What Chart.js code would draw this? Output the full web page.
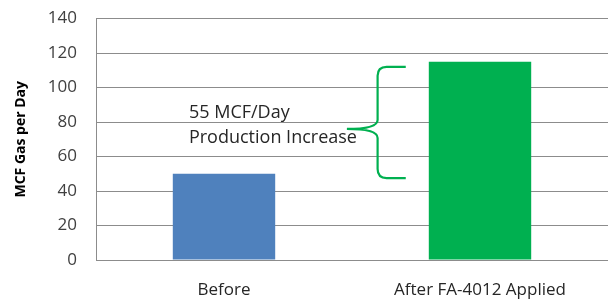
<!DOCTYPE html>
<html>
<head>
<meta charset="utf-8">
<script src="https://cdn.jsdelivr.net/npm/chart.js@4"></script>
<style>
  html, body { margin: 0; padding: 0; background: #fff; }
  #wrap { width: 608px; height: 301px; }
</style>
</head>
<body>
<div id="wrap"><canvas id="grafico"></canvas></div>
<script>
// data
const categorias = ['Before', 'After FA-4012 Applied'];
const valores = [50, 115];
const coresBarras = ['#4f81bd', '#00b050'];
const yTicks = [0, 20, 40, 60, 80, 100, 120, 140];
const textoNota = ['55 MCF/Day', 'Production Increase'];

// draws the green brace and the note text
const chaveta = {
    id: 'chaveta',
    afterDatasetsDraw(chart) {
        const ctx = chart.ctx;
        const x = chart.scales.x;
        const y = chart.scales.y;
        const xv = x.getPixelForValue(0.6);
        const xtip = x.getPixelForValue(0.48);
        const xend = x.getPixelForValue(0.71);
        const yTop = y.getPixelForValue(112);
        const yBot = y.getPixelForValue(47.5);
        const yMid = y.getPixelForValue(76);
        const r = 9;

        ctx.save();
        ctx.strokeStyle = '#00b050';
        ctx.lineWidth = 2.2;
        ctx.beginPath();
        ctx.moveTo(xend, yTop);
        ctx.lineTo(xv + r, yTop);
        ctx.quadraticCurveTo(xv, yTop, xv, yTop + r);
        ctx.lineTo(xv, yMid - r);
        ctx.quadraticCurveTo(xv, yMid, xtip, yMid);
        ctx.quadraticCurveTo(xv, yMid, xv, yMid + r);
        ctx.lineTo(xv, yBot - r);
        ctx.quadraticCurveTo(xv, yBot, xv + r, yBot);
        ctx.lineTo(xend, yBot);
        ctx.stroke();

        ctx.fillStyle = '#262626';
        ctx.font = '18px "Open Sans"';
        ctx.textBaseline = 'middle';
        ctx.textAlign = 'left';
        const xt = x.getPixelForValue(-0.137);
        ctx.fillText(textoNota[0], xt, y.getPixelForValue(85.3));
        ctx.fillText(textoNota[1], xt, y.getPixelForValue(70.6));
        ctx.restore();
    }
};

var grafico = document.getElementById('grafico').getContext('2d');

var meugrafico = new Chart(grafico, {
    type: 'bar',
    data: {
        labels: categorias,
        datasets: [{
            data: valores,
            backgroundColor: coresBarras,
            borderWidth: 0,
            categoryPercentage: 1,
            barPercentage: 0.4
        }]
    },
    options: {
        responsive: true,
        maintainAspectRatio: false,
        animation: false,
        layout: { padding: { top: 0, right: 0, left: 0, bottom: 0 } },
        plugins: {
            legend: { display: false },
            tooltip: { enabled: false }
        },
        scales: {
            y: {
                min: 0,
                max: 140,
                afterBuildTicks: s => { s.ticks = yTicks.map(v => ({ value: v })); },
                afterFit: s => { s.width = 96; s.paddingTop = 18.5; },
                ticks: {
                    color: '#404040',
                    font: { family: 'Open Sans', size: 17 },
                    padding: 19
                },
                grid: { color: '#8c8c8c', drawTicks: false },
                border: { color: '#8c8c8c' },
                title: {
                    display: true,
                    text: 'MCF Gas per Day',
                    color: '#000',
                    font: { family: 'Open Sans', size: 14, weight: 'bold' },
                    padding: { top: 13, bottom: 4 }
                }
            },
            x: {
                afterFit: s => { s.height = 41; },
                ticks: {
                    color: '#262626',
                    font: { family: 'Open Sans', size: 17 },
                    padding: 20
                },
                grid: { display: false, drawTicks: false },
                border: { color: '#8c8c8c' }
            }
        }
    },
    plugins: [chaveta]
});
</script>
</body>
</html>
